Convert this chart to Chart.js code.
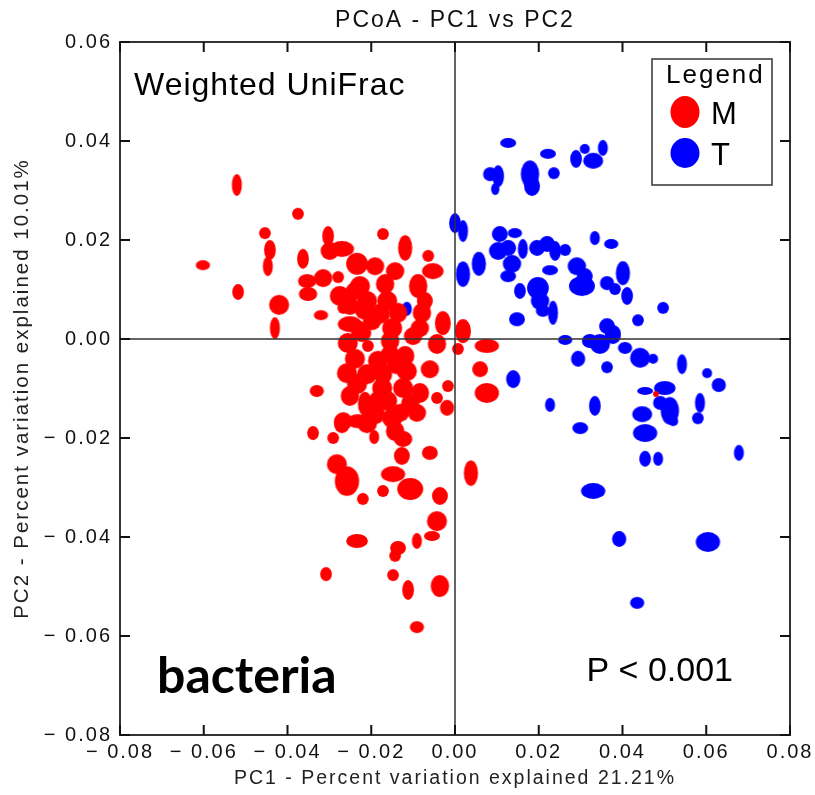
<!DOCTYPE html>
<html lang="en">
<head>
  <meta charset="UTF-8">
  <title>PCoA - PC1 vs PC2</title>
  <script src="https://cdn.jsdelivr.net/npm/chart.js"></script>
  <style>
    body { margin: 0; background: #ffffff; }
    #wrap { width: 815px; height: 795px; }
  </style>
</head>
<body>
  <div id="wrap"><canvas id="pcoa"></canvas></div>

  <script>
    // groups and colours
    const groupNames = ['M', 'T'];
    const groupColors = ['#ff0000', '#0000ff'];

    // axis ticks
    const xTicks = [-0.08, -0.06, -0.04, -0.02, 0.00, 0.02, 0.04, 0.06, 0.08];
    const yTicks = [-0.08, -0.06, -0.04, -0.02, 0.00, 0.02, 0.04, 0.06];

    // M samples: PC1, PC2 and jackknife spread on each axis
    const mX = [-0.0521, -0.0375, -0.0454, -0.0442, -0.0447, -0.0602, -0.0518, -0.0420, -0.0430, -0.0320,
      -0.0363, -0.0303, -0.0299, -0.0270, -0.0353, -0.0315, -0.0351, -0.0279, -0.0275, -0.0267,
      -0.0251, -0.0256, -0.0234, -0.0172, -0.0119, -0.0064, -0.0053, -0.0088, -0.0227, -0.0210,
      -0.0167, -0.0162, -0.0215, -0.0179, -0.0079, -0.0029, 0.0019, -0.0198, -0.0150, -0.0084,
      -0.0208, -0.0155, -0.0155, -0.0100, -0.0043, 0.0007, -0.0239, -0.0184, -0.0139, -0.0258,
      -0.0210, -0.0172, -0.0115, -0.0060, -0.0234, -0.0174, -0.0124, -0.0017, -0.0330, -0.0043,
      -0.0215, -0.0162, -0.0107, -0.0191, -0.0267, -0.0210, -0.0150, -0.0091, -0.0339, -0.0291,
      -0.0270, -0.0232, -0.0131, -0.0019, -0.0193, -0.0124, -0.0127, -0.0060, -0.0282, -0.0258,
      -0.0148, -0.0220, -0.0172, -0.0107, -0.0036, -0.0043, -0.0055, -0.0091, -0.0136, -0.0143,
      -0.0234, -0.0308, -0.0148, -0.0112, -0.0036, -0.0091, 0.0038, 0.0076, 0.0060, 0.0076,
      0.0480, -0.0239, -0.0191, -0.0143, -0.0251, -0.0136, -0.0222, -0.0072, -0.0119, -0.0251,
      -0.0184, -0.0227, -0.0084, -0.0143];
    const mY = [0.0311, 0.0253, 0.0214, 0.0180, 0.0147, 0.0149, 0.0095, 0.0069, 0.0022, 0.0048,
      0.0162, 0.0208, 0.0178, 0.0182, 0.0117, 0.0123, 0.0091, 0.0125, 0.0087, 0.0063,
      0.0030, -0.0008, 0.0152, 0.0212, 0.0184, 0.0168, 0.0137, 0.0107, 0.0107, 0.0077,
      0.0111, 0.0077, 0.0057, 0.0051, 0.0053, 0.0032, 0.0016, 0.0036, 0.0022, 0.0022,
      -0.0014, -0.0004, -0.0030, 0.0006, -0.0010, -0.0020, -0.0040, -0.0044, -0.0051, -0.0069,
      -0.0071, -0.0071, -0.0065, -0.0061, -0.0091, -0.0099, -0.0099, -0.0095, -0.0105, -0.0119,
      -0.0131, -0.0125, -0.0131, -0.0152, -0.0166, -0.0170, -0.0160, -0.0149, -0.0190, -0.0200,
      -0.0172, -0.0166, -0.0149, -0.0139, -0.0198, -0.0202, -0.0236, -0.0230, -0.0253, -0.0287,
      -0.0273, -0.0323, -0.0307, -0.0303, -0.0317, -0.0368, -0.0398, -0.0408, -0.0422, -0.0438,
      -0.0408, -0.0475, -0.0477, -0.0507, -0.0499, -0.0582, -0.0271, -0.0109, -0.0061, -0.0014,
      -0.0111, 0.0097, 0.0147, 0.0137, 0.0067, 0.0053, 0.0012, 0.0077, -0.0034, -0.0115,
      -0.0125, 0.0016, -0.0109, -0.0186];
    const mSx = [.0012, .0014, .0014, .0014, .0012, .0017, .0014, .0024, .0012, .0017,
      .0014, .0014, .0022, .0029, .0022, .0022, .0022, .0014, .0024, .0014,
      .0029, .0024, .0026, .0014, .0017, .0014, .0026, .0022, .0024, .0024,
      .0022, .0024, .0024, .0024, .0022, .0019, .0019, .0022, .0024, .0022,
      .0014, .0022, .0022, .0022, .0022, .0014, .0024, .0024, .0024, .0024,
      .0024, .0022, .0024, .0022, .0024, .0024, .0024, .0014, .0017, .0014,
      .0017, .0024, .0022, .0024, .0022, .0024, .0024, .0022, .0014, .0014,
      .0019, .0026, .0022, .0017, .0012, .0022, .0019, .0019, .0024, .0029,
      .0029, .0014, .0014, .0031, .0019, .0024, .0019, .0012, .0019, .0014,
      .0026, .0014, .0014, .0014, .0022, .0017, .0017, .0029, .0019, .0029,
      .0007, .0022, .0022, .0022, .0022, .0022, .0022, .0019, .0022, .0022,
      .0022, .0022, .0022, .0022];
    const mSy = [.0022, .0012, .0012, .0020, .0020, .0010, .0016, .0020, .0022, .0010,
      .0020, .0020, .0018, .0016, .0014, .0018, .0014, .0012, .0020, .0012,
      .0016, .0020, .0022, .0012, .0026, .0012, .0016, .0024, .0020, .0020,
      .0020, .0020, .0018, .0020, .0020, .0024, .0024, .0018, .0020, .0018,
      .0012, .0020, .0018, .0018, .0020, .0012, .0020, .0020, .0020, .0020,
      .0020, .0020, .0020, .0018, .0020, .0020, .0020, .0012, .0012, .0012,
      .0024, .0020, .0020, .0020, .0018, .0020, .0020, .0018, .0014, .0012,
      .0018, .0014, .0018, .0016, .0014, .0016, .0018, .0014, .0020, .0030,
      .0016, .0012, .0012, .0022, .0018, .0020, .0010, .0016, .0014, .0012,
      .0014, .0014, .0012, .0020, .0022, .0012, .0026, .0020, .0016, .0014,
      .0006, .0018, .0018, .0018, .0018, .0020, .0018, .0018, .0020, .0020,
      .0020, .0020, .0020, .0020];

    // T samples
    const tX = [0.0127, 0.0084, 0.0103, 0.0096, 0.0179, 0.0184, 0.0222, 0.0236, 0.0289, 0.0310,
      0.0330, 0.0353, 0.0000, 0.0019, 0.0019, 0.0057, 0.0107, 0.0143, 0.0103, 0.0127,
      0.0136, 0.0127, 0.0162, 0.0196, 0.0220, 0.0239, 0.0263, 0.0227, 0.0291, 0.0310,
      0.0303, 0.0198, 0.0203, 0.0234, 0.0210, 0.0148, 0.0334, 0.0373, 0.0363, 0.0401,
      0.0411, 0.0382, 0.0497, 0.0437, 0.0363, 0.0377, 0.0263, 0.0346, 0.0377, 0.0294,
      0.0363, 0.0442, 0.0473, 0.0542, 0.0602, 0.0630, 0.0139, 0.0227, 0.0334, 0.0299,
      0.0454, 0.0501, 0.0490, 0.0513, 0.0521, 0.0447, 0.0454, 0.0585, 0.0580, 0.0454,
      0.0485, 0.0678, 0.0330, 0.0392, 0.0604, 0.0435, -0.0115, 0.0322, 0.0406, 0.0155];
    const tY = [0.0396, 0.0333, 0.0329, 0.0303, 0.0333, 0.0309, 0.0374, 0.0335, 0.0364, 0.0384,
      0.0360, 0.0386, 0.0234, 0.0218, 0.0131, 0.0152, 0.0212, 0.0214, 0.0178, 0.0184,
      0.0152, 0.0127, 0.0182, 0.0184, 0.0192, 0.0178, 0.0180, 0.0139, 0.0147, 0.0127,
      0.0107, 0.0103, 0.0077, 0.0053, 0.0057, 0.0040, 0.0204, 0.0192, 0.0113, 0.0133,
      0.0087, 0.0101, 0.0063, 0.0038, 0.0026, 0.0012, -0.0002, -0.0010, 0.0006, -0.0040,
      -0.0057, -0.0038, -0.0040, -0.0051, -0.0069, -0.0093, -0.0081, -0.0133, -0.0135, -0.0180,
      -0.0105, -0.0099, -0.0129, -0.0145, -0.0166, -0.0152, -0.0190, -0.0129, -0.0160, -0.0242,
      -0.0242, -0.0230, -0.0307, -0.0404, -0.0410, -0.0533, 0.0061, -0.0004, -0.0018, 0.0097];
    const tSx = [.0019, .0017, .0014, .0010, .0022, .0019, .0019, .0014, .0014, .0012,
      .0024, .0012, .0014, .0012, .0017, .0017, .0019, .0017, .0022, .0019,
      .0022, .0019, .0012, .0019, .0019, .0014, .0014, .0019, .0022, .0019,
      .0031, .0026, .0022, .0012, .0017, .0019, .0012, .0017, .0017, .0017,
      .0014, .0014, .0014, .0014, .0019, .0019, .0017, .0024, .0019, .0017,
      .0014, .0024, .0012, .0012, .0012, .0017, .0017, .0012, .0014, .0019,
      .0019, .0026, .0017, .0022, .0012, .0024, .0029, .0012, .0014, .0014,
      .0012, .0012, .0029, .0017, .0029, .0017, .0012, .0019, .0017, .0014];
    const tSy = [.0010, .0014, .0022, .0012, .0028, .0020, .0010, .0012, .0018, .0010,
      .0016, .0016, .0020, .0022, .0026, .0024, .0016, .0010, .0018, .0016,
      .0018, .0012, .0020, .0016, .0016, .0020, .0012, .0010, .0018, .0016,
      .0020, .0022, .0018, .0024, .0012, .0014, .0014, .0010, .0014, .0024,
      .0018, .0012, .0012, .0012, .0016, .0016, .0010, .0020, .0016, .0016,
      .0012, .0020, .0010, .0020, .0010, .0014, .0018, .0014, .0020, .0012,
      .0008, .0014, .0014, .0028, .0010, .0016, .0018, .0020, .0012, .0016,
      .0014, .0016, .0016, .0016, .0020, .0012, .0014, .0014, .0012, .0016];

    function points(xs, ys, sxs, sys) {
      return xs.map((x, i) => ({ x: x, y: ys[i], sx: sxs[i], sy: sys[i] }));
    }

    // each sample is an ellipse whose half axes are its spread, through the scales
    const shapeCache = {};
    function ellipseStyle(ctx) {
      const chart = ctx.chart;
      const raw = ctx.raw;
      if (!raw || !chart.scales.x) return 'circle';
      const xs = chart.scales.x, ys = chart.scales.y;
      const rx = Math.abs(xs.getPixelForValue(raw.x + raw.sx) - xs.getPixelForValue(raw.x));
      const ry = Math.abs(ys.getPixelForValue(raw.y + raw.sy) - ys.getPixelForValue(raw.y));
      const color = ctx.dataset.backgroundColor;
      const key = color + '_' + rx.toFixed(1) + '_' + ry.toFixed(1);
      if (!shapeCache[key]) {
        const c = document.createElement('canvas');
        c.width = Math.ceil(rx * 2) + 2;
        c.height = Math.ceil(ry * 2) + 2;
        const g = c.getContext('2d');
        g.fillStyle = color;
        g.beginPath();
        g.ellipse(c.width / 2, c.height / 2, rx, ry, 0, 0, Math.PI * 2);
        g.fill();
        shapeCache[key] = c;
      }
      return shapeCache[key];
    }

    function fmt(v) {
      const s = Math.abs(v).toFixed(2);
      return v < -1e-9 ? '\u2212 ' + s : s;
    }

    const frame = {
      id: 'frame',
      beforeDraw(chart) {
        chart.ctx.letterSpacing = '2px';
      },
      afterDatasetsDraw(chart) {
        const { ctx, chartArea: a } = chart;
        const xs = chart.scales.x, ys = chart.scales.y;
        ctx.save();
        ctx.letterSpacing = '0px';
        // zero lines
        ctx.strokeStyle = '#333';
        ctx.lineWidth = 1.5;
        ctx.beginPath();
        const x0 = xs.getPixelForValue(0), y0 = ys.getPixelForValue(0);
        ctx.moveTo(x0, a.top); ctx.lineTo(x0, a.bottom);
        ctx.moveTo(a.left, y0); ctx.lineTo(a.right, y0);
        ctx.stroke();
        // frame and inward ticks
        ctx.strokeStyle = '#333';
        ctx.lineWidth = 2;
        ctx.strokeRect(a.left, a.top, a.right - a.left, a.bottom - a.top);
        ctx.strokeStyle = '#111';
        ctx.beginPath();
        xs.ticks.forEach(t => {
          const px = xs.getPixelForValue(t.value);
          ctx.moveTo(px, a.bottom); ctx.lineTo(px, a.bottom - 10);
          ctx.moveTo(px, a.top); ctx.lineTo(px, a.top + 10);
        });
        ys.ticks.forEach(t => {
          const py = ys.getPixelForValue(t.value);
          ctx.moveTo(a.left, py); ctx.lineTo(a.left + 10, py);
          ctx.moveTo(a.right, py); ctx.lineTo(a.right - 10, py);
        });
        ctx.stroke();
        ctx.restore();
      },
      afterDraw(chart) {
        const { ctx, chartArea: a } = chart;
        ctx.save();
        ctx.fillStyle = '#000';
        ctx.textAlign = 'left';
        ctx.textBaseline = 'alphabetic';

        ctx.letterSpacing = '1px';
        ctx.font = '32px "Liberation Sans", Arial, sans-serif';
        ctx.fillText('Weighted UniFrac', a.left + 14, a.top + 53);

        ctx.letterSpacing = '0px';
        ctx.font = 'bold 50px Lato, "Open Sans", sans-serif';
        ctx.fillText('bacteria', a.left + 37, a.bottom - 42);

        ctx.font = '34px "Liberation Sans", Arial, sans-serif';
        ctx.textAlign = 'right';
        ctx.fillText('P < 0.001', a.right - 57, a.bottom - 54);

        // legend box
        const bx = a.right - 138, by = a.top + 17, bw = 120, bh = 126;
        ctx.strokeStyle = '#333';
        ctx.lineWidth = 1.5;
        ctx.strokeRect(bx, by, bw, bh);
        ctx.textAlign = 'left';
        ctx.letterSpacing = '2px';
        ctx.font = '26px "Liberation Sans", Arial, sans-serif';
        ctx.fillText('Legend', bx + 14, by + 24);
        ctx.letterSpacing = '0px';
        ctx.font = '31px "Liberation Sans", Arial, sans-serif';
        chart.data.datasets.forEach((ds, i) => {
          const cy = by + 53 + i * 41;
          ctx.fillStyle = ds.backgroundColor;
          ctx.beginPath();
          ctx.ellipse(bx + 33, cy, 14.5, i === 0 ? 16 : 15, 0, 0, Math.PI * 2);
          ctx.fill();
          ctx.fillStyle = '#000';
          ctx.fillText(ds.label, bx + 59, cy + 12);
        });
        ctx.restore();
      }
    };

    new Chart(document.getElementById('pcoa'), {
      type: 'scatter',
      data: {
        datasets: [
          {
            label: groupNames[0],
            data: points(mX, mY, mSx, mSy),
            backgroundColor: groupColors[0],
            borderWidth: 0,
            pointRadius: 6,
            pointStyle: ellipseStyle
          },
          {
            label: groupNames[1],
            data: points(tX, tY, tSx, tSy),
            backgroundColor: groupColors[1],
            borderWidth: 0,
            pointRadius: 6,
            pointStyle: ellipseStyle
          }
        ]
      },
      options: {
        responsive: true,
        maintainAspectRatio: false,
        animation: false,
        events: [],
        layout: { padding: { left: 0, right: 25, top: 0, bottom: 0 } },
        plugins: {
          legend: { display: false },
          tooltip: { enabled: false },
          title: {
            display: true,
            fullSize: false,
            text: 'PCoA - PC1 vs PC2',
            color: '#111',
            font: { family: '"Liberation Sans", Arial, sans-serif', size: 23, weight: 'normal' },
            padding: { top: 7, bottom: 7.4 }
          }
        },
        scales: {
          x: {
            type: 'linear',
            min: -0.08,
            max: 0.08,
            afterBuildTicks: s => { s.ticks = xTicks.map(v => ({ value: v })); },
            afterFit: s => { s.height = 60; },
            grid: { display: false, drawTicks: false },
            border: { display: false },
            ticks: {
              callback: v => fmt(v),
              color: '#111',
              padding: 5,
              maxRotation: 0,
              font: { family: '"Liberation Sans", Arial, sans-serif', size: 20 }
            },
            title: {
              display: true,
              text: 'PC1 - Percent variation explained 21.21%',
              color: '#222',
              padding: { top: 0, bottom: 5 },
              font: { family: '"Liberation Sans", Arial, sans-serif', size: 19.5 }
            }
          },
          y: {
            type: 'linear',
            min: -0.08,
            max: 0.06,
            afterBuildTicks: s => { s.ticks = yTicks.map(v => ({ value: v })); },
            afterFit: s => { s.width = 120; },
            grid: { display: false, drawTicks: false },
            border: { display: false },
            ticks: {
              callback: v => fmt(v),
              color: '#111',
              padding: 8,
              font: { family: '"Liberation Sans", Arial, sans-serif', size: 20 }
            },
            title: {
              display: true,
              text: 'PC2 - Percent variation explained 10.01%',
              color: '#222',
              padding: { top: 10, bottom: 0 },
              font: { family: '"Liberation Sans", Arial, sans-serif', size: 20.5 }
            }
          }
        }
      },
      plugins: [frame]
    });
  </script>
</body>
</html>
